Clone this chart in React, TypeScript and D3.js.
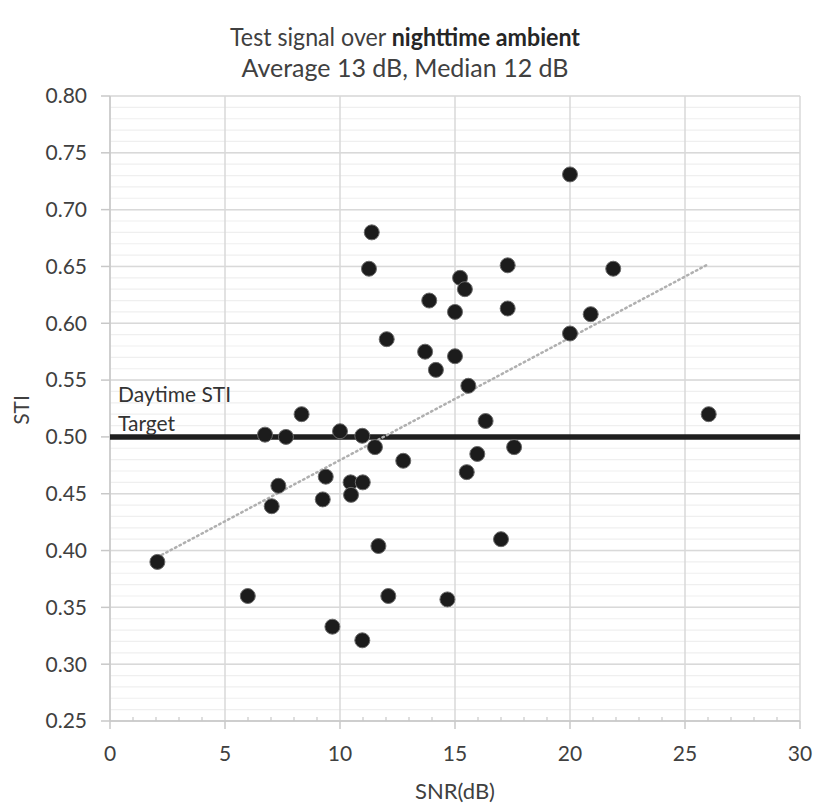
import React from "react";
import * as d3 from "d3";

const snr: number[] = [2.06, 5.99, 6.74, 7.03, 7.32, 7.65, 8.33, 9.25, 9.38, 9.67, 10.0, 10.46, 10.48, 10.97, 10.99, 10.97, 11.26, 11.38, 11.52, 11.67, 12.03, 12.1, 12.75, 13.7, 13.88, 14.17, 14.67, 15.0, 15.0, 15.22, 15.43, 15.51, 15.58, 15.97, 16.33, 17.0, 17.29, 17.29, 17.57, 20.0, 20.0, 20.9, 21.88, 26.03];
const sti: number[] = [0.39, 0.36, 0.502, 0.439, 0.457, 0.5, 0.52, 0.445, 0.465, 0.333, 0.505, 0.46, 0.449, 0.501, 0.46, 0.321, 0.648, 0.68, 0.491, 0.404, 0.586, 0.36, 0.479, 0.575, 0.62, 0.559, 0.357, 0.61, 0.571, 0.64, 0.63, 0.469, 0.545, 0.485, 0.514, 0.41, 0.651, 0.613, 0.491, 0.731, 0.591, 0.608, 0.648, 0.52];

const xTicks = [0, 5, 10, 15, 20, 25, 30];
const yTicks = [0.25, 0.3, 0.35, 0.4, 0.45, 0.5, 0.55, 0.6, 0.65, 0.7, 0.75, 0.8];
const targetSTI = 0.5;
const titleLine1 = "Test signal over ";
const titleBold = "nighttime ambient";
const titleLine2 = "Average 13 dB, Median 12 dB";
const targetLabel = ["Daytime STI", "Target"];

const FONT = "Lato, 'Open Sans', sans-serif";

export default function App() {
  const W = 814, H = 803;
  const x = d3.scaleLinear().domain([0, 30]).range([110, 800]);
  const y = d3.scaleLinear().domain([0.25, 0.8]).range([721, 96]);

  // linear least-squares trendline (as in the spreadsheet)
  const n = snr.length;
  const mx = d3.mean(snr)!;
  const my = d3.mean(sti)!;
  let sxy = 0, sxx = 0;
  for (let i = 0; i < n; i++) {
    sxy += (snr[i] - mx) * (sti[i] - my);
    sxx += (snr[i] - mx) ** 2;
  }
  const slope = sxy / sxx;
  const icpt = my - slope * mx;
  const x0 = d3.min(snr)!, x1 = d3.max(snr)!;
  const trend = d3.line<number>().x((v) => x(v)).y((v) => y(icpt + slope * v));

  const minorY = d3.range(25, 81).map((v) => v / 100);
  const minorX = d3.range(0, 31);

  return (
    <svg width={W} height={H} style={{ position: "absolute", left: 0, top: 0, background: "#fff" }} fontFamily={FONT}>
      {/* minor horizontal grid */}
      {minorY.map((v) => (
        <line key={"my" + v} x1={x(0)} x2={x(30)} y1={y(v)} y2={y(v)} stroke="#efefef" strokeWidth={1.2} />
      ))}
      {/* major horizontal grid */}
      {yTicks.map((v) => (
        <line key={"gy" + v} x1={x(0)} x2={x(30)} y1={y(v)} y2={y(v)} stroke="#d9d9d9" strokeWidth={1.5} />
      ))}
      {/* vertical grid */}
      {xTicks.map((v) => (
        <line key={"gx" + v} x1={x(v)} x2={x(v)} y1={y(0.8)} y2={y(0.25)} stroke="#d9d9d9" strokeWidth={1.5} />
      ))}
      {/* axes */}
      <line x1={x(0)} x2={x(0)} y1={y(0.8)} y2={y(0.25)} stroke="#c8c8c8" strokeWidth={1.5} />
      <line x1={x(0)} x2={x(30)} y1={y(0.25)} y2={y(0.25)} stroke="#c8c8c8" strokeWidth={1.5} />
      {yTicks.map((v) => (
        <line key={"ty" + v} x1={x(0) - 9} x2={x(0)} y1={y(v)} y2={y(v)} stroke="#c8c8c8" strokeWidth={1.5} />
      ))}
      {xTicks.map((v) => (
        <line key={"tx" + v} x1={x(v)} x2={x(v)} y1={y(0.25)} y2={y(0.25) + 8} stroke="#c8c8c8" strokeWidth={1.5} />
      ))}
      {minorX.filter((v) => v % 5 !== 0).map((v) => (
        <line key={"mx" + v} x1={x(v)} x2={x(v)} y1={y(0.25) - 4} y2={y(0.25)} stroke="#c8c8c8" strokeWidth={1.2} />
      ))}
      {/* tick labels */}
      {yTicks.map((v) => (
        <text key={"ly" + v} x={87} y={y(v)} dy="0.35em" textAnchor="end" fontSize={21} fill="#404040">
          {v.toFixed(2)}
        </text>
      ))}
      {xTicks.map((v) => (
        <text key={"lx" + v} x={x(v)} y={754} dy="0.35em" textAnchor="middle" fontSize={21} fill="#404040">
          {v}
        </text>
      ))}
      <text x={455} y={791} dy="0.35em" textAnchor="middle" fontSize={22} fill="#404040">SNR(dB)</text>
      <text transform={`translate(22,${410}) rotate(-90)`} dy="0.35em" textAnchor="middle" fontSize={21} fill="#404040">STI</text>

      {/* title */}
      <text x={405} y={37} dy="0.35em" textAnchor="middle" fontSize={25} fill="#404040" textLength={350} lengthAdjust="spacingAndGlyphs">
        {titleLine1}
        <tspan fontWeight="bold" fill="#262626">{titleBold}</tspan>
      </text>
      <text x={405} y={68} dy="0.35em" textAnchor="middle" fontSize={25} fill="#404040">{titleLine2}</text>

      {/* target line */}
      <line x1={x(0)} x2={x(30)} y1={y(targetSTI)} y2={y(targetSTI)} stroke="#1f1f1f" strokeWidth={5.5} />
      <text x={118} y={402} fontSize={21} fill="#333">{targetLabel[0]}</text>
      <text x={118} y={431} fontSize={21} fill="#333">{targetLabel[1]}</text>

      {/* trendline */}
      <path d={trend([x0, x1]) ?? ""} fill="none" stroke="#b0b0b0" strokeWidth={2.5} strokeDasharray="1.5 3.5" strokeLinecap="round" />

      {/* points */}
      {snr.map((v, i) => (
        <circle key={"p" + i} cx={x(v)} cy={y(sti[i])} r={7.5} fill="#1c1c1c" stroke="#6a6a6a" strokeWidth={1} />
      ))}
    </svg>
  );
}
